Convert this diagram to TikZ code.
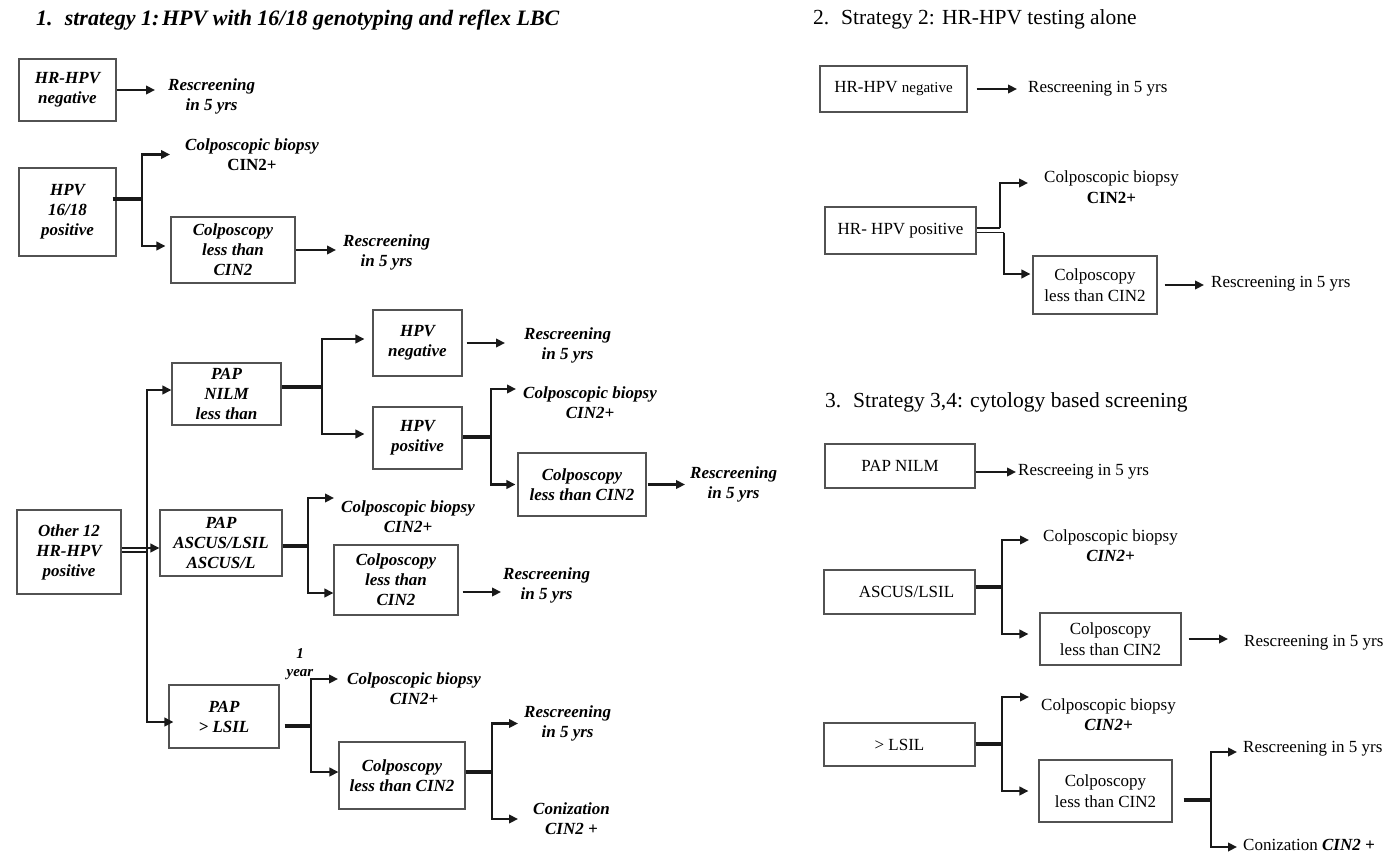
\documentclass[tikz,border=0pt]{standalone}
\usepackage{fontspec}
\setmainfont{Liberation Serif}
\usetikzlibrary{arrows.meta}
\begin{document}
\begin{tikzpicture}[x=1pt,y=-1pt,
  bx/.style={draw=black!68, line width=1.1pt, align=center, inner sep=0pt},
  lf/.style={font=\fontsize{17}{20}\selectfont\bfseries\itshape},
  rf/.style={font=\fontsize{17}{20.5}\selectfont},
  lbl/.style={anchor=west, inner sep=0pt, align=center},
  conn/.style={line width=2.7pt, draw=black!90},
  arr/.style={conn, -{Triangle[length=9pt,width=8.5pt]}},
  stub/.style={line width=3.7pt, draw=black!90},
  rstub/.style={line width=3.2pt, draw=black!90},
]
\fill[white] (0,0) rectangle (1399,854);
\useasboundingbox (0,0) rectangle (1399,854);

% ---------- Strategy 1 ----------
\node[anchor=west, inner sep=0pt, font=\fontsize{22}{26}\selectfont\bfseries\itshape] (t1) at (36,20)
  {1.\hspace{0.55em}strategy 1:\hspace{0.12em}HPV with 16/18 genotyping and reflex LBC};

\node[bx, lf, minimum width=97pt, minimum height=62pt] (A) at (67.5,90) {HR-HPV\\negative};
\node[bx, lf, minimum width=97pt, minimum height=88pt] (B) at (67.5,212) {HPV\\16/18\\positive};
\node[bx, lf, minimum width=124pt, minimum height=66pt] (C) at (233,250) {Colposcopy\\less than\\CIN2};
\node[bx, lf, minimum width=109pt, minimum height=62pt] (NILM) at (226.5,394) {PAP\\NILM\\less than};
\node[bx, lf, minimum width=89pt, minimum height=66pt] (HN) at (417.5,343) {HPV\\negative};
\node[bx, lf, minimum width=89pt, minimum height=62pt] (HP) at (417.5,438) {HPV\\positive};
\node[bx, lf, minimum width=128pt, minimum height=63pt] (CN) at (582,484.5) {Colposcopy\\less than CIN2};
\node[bx, lf, minimum width=104pt, minimum height=84pt] (O12) at (69,552) {Other 12\\HR-HPV\\positive};
\node[bx, lf, minimum width=122pt, minimum height=66pt] (ASC) at (221,543) {PAP\\ASCUS/LSIL\\ASCUS/L};
\node[bx, lf, minimum width=124pt, minimum height=70pt] (CA) at (396,580) {Colposcopy\\less than\\CIN2};
\node[bx, lf, minimum width=110pt, minimum height=63pt] (LS) at (224,716.5) {PAP\\> LSIL};
\node[bx, lf, minimum width=126pt, minimum height=67pt] (CL) at (402,775.5) {Colposcopy\\less than CIN2};

\node[lbl, lf] (resA) at (168,96.5) {Rescreening\\in 5 yrs};
\node[lbl, lf] (cbB) at (185,154.5) {Colposcopic biopsy\\{\upshape CIN2+}};
\node[lbl, lf] (resC) at (343,252) {Rescreening\\in 5 yrs};
\node[lbl, lf] (resHN) at (524,345.5) {Rescreening\\in 5 yrs};
\node[lbl, lf] (cbHP) at (523,402.5) {Colposcopic biopsy\\CIN2+};
\node[lbl, lf] (resCN) at (690,484.5) {Rescreening\\in 5 yrs};
\node[lbl, lf] (cbA) at (341,517) {Colposcopic biopsy\\CIN2+};
\node[lbl, lf] (resA2) at (503,585) {Rescreening\\in 5 yrs};
\node[inner sep=0pt, align=center, font=\fontsize{15}{18}\selectfont\bfseries\itshape] (yr) at (300,664) {1\\year};
\node[lbl, lf] (cbL) at (347,688.5) {Colposcopic biopsy\\CIN2+};
\node[lbl, lf] (resL) at (524,723.5) {Rescreening\\in 5 yrs};
\node[lbl, lf] (conL) at (533,819) {Conization\\CIN2 +};

\coordinate (jB) at (142,199);
\coordinate (jN) at (322,387);
\coordinate (jP) at (491,437);
\coordinate (jO) at (147,552);
\coordinate (jA) at (308,546);
\coordinate (jL) at (311,726);
\coordinate (jL2) at (492,772);

\draw[arr, shorten >=13pt] (A.east) -- (A.east -| resA.west);
\draw[stub, shorten <=-4pt] (B.east |- jB) -- (jB);
\draw[arr, shorten >=15pt] (jB) |- (cbB.west);
\draw[arr, shorten >=5pt] (jB) |- ([yshift=4pt]C.west);
\draw[arr, shorten >=7pt] (C.east) -- (C.east -| resC.west);
\draw[stub] (NILM.east |- jN) -- (jN);
\draw[arr, shorten >=8pt] (jN) |- ([yshift=4pt]HN.west);
\draw[arr, shorten >=8pt] (jN) |- ([yshift=4pt]HP.west);
\draw[arr, shorten <=4pt, shorten >=19pt] (HN.east) -- (HN.east -| resHN.west);
\draw[stub] (HP.east |- jP) -- (jP);
\draw[arr, shorten >=7pt] (jP) |- ([yshift=13.5pt]cbHP.west);
\draw[arr, shorten >=2pt] (jP) |- (CN.west);
\draw[arr, shorten <=1pt, shorten >=5pt] (CN.east) -- (CN.east -| resCN.west);
\draw[conn, line width=2.2pt] (O12.east) -- (jO);
\draw[arr, line width=2.2pt] ([yshift=4pt]O12.east) -- ([yshift=4pt]O12.east -| ASC.west);
\draw[arr] (jO) |- ([yshift=4pt]NILM.west);
\draw[arr, shorten >=-5pt] (jO) |- ([yshift=-5.5pt]LS.west);
\draw[stub] (ASC.east |- jA) -- (jA);
\draw[arr, shorten >=7pt] (jA) |- ([yshift=19pt]cbA.west);
\draw[arr] (jA) |- ([yshift=-13pt]CA.west);
\draw[arr, shorten <=4pt, shorten >=2pt] ([yshift=-12pt]CA.east) -- ([yshift=-12pt]CA.east -| resA2.west);
\draw[stub, shorten <=5pt] (LS.east |- jL) -- (jL);
\draw[arr, shorten >=9pt] (jL) |- ([yshift=9.5pt]cbL.west);
\draw[arr] (jL) |- ([yshift=3.5pt]CL.west);
\draw[stub] (CL.east |- jL2) -- (jL2);
\draw[arr, shorten >=6pt] (jL2) |- (resL.west);
\draw[arr, shorten >=15pt] (jL2) |- (conL.west);

% ---------- Strategy 2 ----------
\node[anchor=west, inner sep=0pt, font=\fontsize{21.5}{24}\selectfont] (t2) at (813,19)
  {2.\hspace{0.55em}Strategy 2: HR-HPV testing alone};
\node[bx, rf, minimum width=147pt, minimum height=46pt] (RN) at (893.5,89) {HR-HPV {\fontsize{15}{18}\selectfont negative}};
\node[bx, rf, minimum width=151pt, minimum height=47pt] (RP) at (900.5,230.5) {HR- HPV positive};
\node[bx, rf, minimum width=124pt, minimum height=58pt] (RC) at (1095,285) {Colposcopy\\less than CIN2};
\node[lbl, rf] (resRN) at (1028,89) {Rescreening in 5 yrs};
\node[lbl, rf] (cbR1) at (1044,187) {Colposcopic biopsy\\\textbf{CIN2+}};
\node[lbl, rf] (resR1) at (1211,284) {Rescreening in 5 yrs};

\coordinate (jR1) at (1000,228);
\coordinate (jR2) at (1004,232.5);
\draw[arr, shorten <=9pt, shorten >=11pt] (RN.east) -- (RN.east -| resRN.west);
\draw[conn, line width=1.5pt] (RP.east |- jR1) -- (jR1);
\draw[conn, line width=1.5pt] (RP.east |- jR2) -- (jR2);
\draw[arr] (jR1) |- ([yshift=4pt]cbR1.west) [shorten >=16pt];
\draw[arr, shorten >=2pt] (jR2) |- ([yshift=11pt]RC.west);
\draw[arr, shorten <=7pt, shorten >=7pt] (RC.east) -- (RC.east -| resR1.west);

% ---------- Strategy 3,4 ----------
\node[anchor=west, inner sep=0pt, font=\fontsize{21.5}{24}\selectfont] (t3) at (825,402)
  {3.\hspace{0.55em}Strategy 3,4: cytology based screening};
\node[bx, rf, minimum width=150pt, minimum height=44pt] (PN) at (900,466) {PAP NILM};
\node[bx, rf, minimum width=151pt, minimum height=44pt] (AS) at (899.5,592) {\hspace*{14pt}ASCUS/LSIL};
\node[bx, rf, minimum width=141pt, minimum height=52pt] (RC2) at (1110.5,639) {Colposcopy\\less than CIN2};
\node[bx, rf, minimum width=151pt, minimum height=43pt] (LSr) at (899.5,744.5) {> LSIL};
\node[bx, rf, minimum width=133pt, minimum height=62pt] (RC3) at (1105.5,791) {Colposcopy\\less than CIN2};

\node[lbl, rf] (resR2) at (1018,472) {Rescreeing in 5 yrs};
\node[lbl, rf] (cbR2) at (1043,545.5) {Colposcopic biopsy\\\textbf{\textit{CIN2+}}};
\node[lbl, rf] (resR3) at (1244,643) {Rescreening in 5 yrs};
\node[lbl, rf] (cbR3) at (1041,714.5) {Colposcopic biopsy\\\textbf{\textit{CIN2+}}};
\node[lbl, rf] (resR4) at (1243,749) {Rescreening in 5 yrs};
\node[lbl, rf] (conR) at (1243,845) {Conization \textbf{\textit{CIN2 +}}};

\coordinate (jS) at (1002,587);
\coordinate (jT) at (1002,744);
\coordinate (jU) at (1211,800);
\draw[arr, shorten >=2pt] (PN.east |- resR2.west) -- (resR2.west);
\draw[rstub] (AS.east |- jS) -- (jS);
\draw[arr, shorten >=14pt] (jS) |- ([yshift=5.5pt]cbR2.west);
\draw[arr, shorten >=11pt] (jS) |- ([yshift=5pt]RC2.west);
\draw[arr, shorten <=7pt, shorten >=16pt] (RC2.east) -- (RC2.east -| resR3.west);
\draw[rstub] (LSr.east |- jT) -- (jT);
\draw[arr, shorten >=12pt] (jT) |- ([yshift=17.5pt]cbR3.west);
\draw[arr, shorten >=10pt] (jT) |- (RC3.west);
\draw[rstub, shorten <=11pt] (RC3.east |- jU) -- (jU);
\draw[arr, shorten >=6pt] (jU) |- ([yshift=-3pt]resR4.west);
\draw[arr, shorten >=6pt] (jU) |- ([yshift=-2pt]conR.west);
\end{tikzpicture}
\end{document}
